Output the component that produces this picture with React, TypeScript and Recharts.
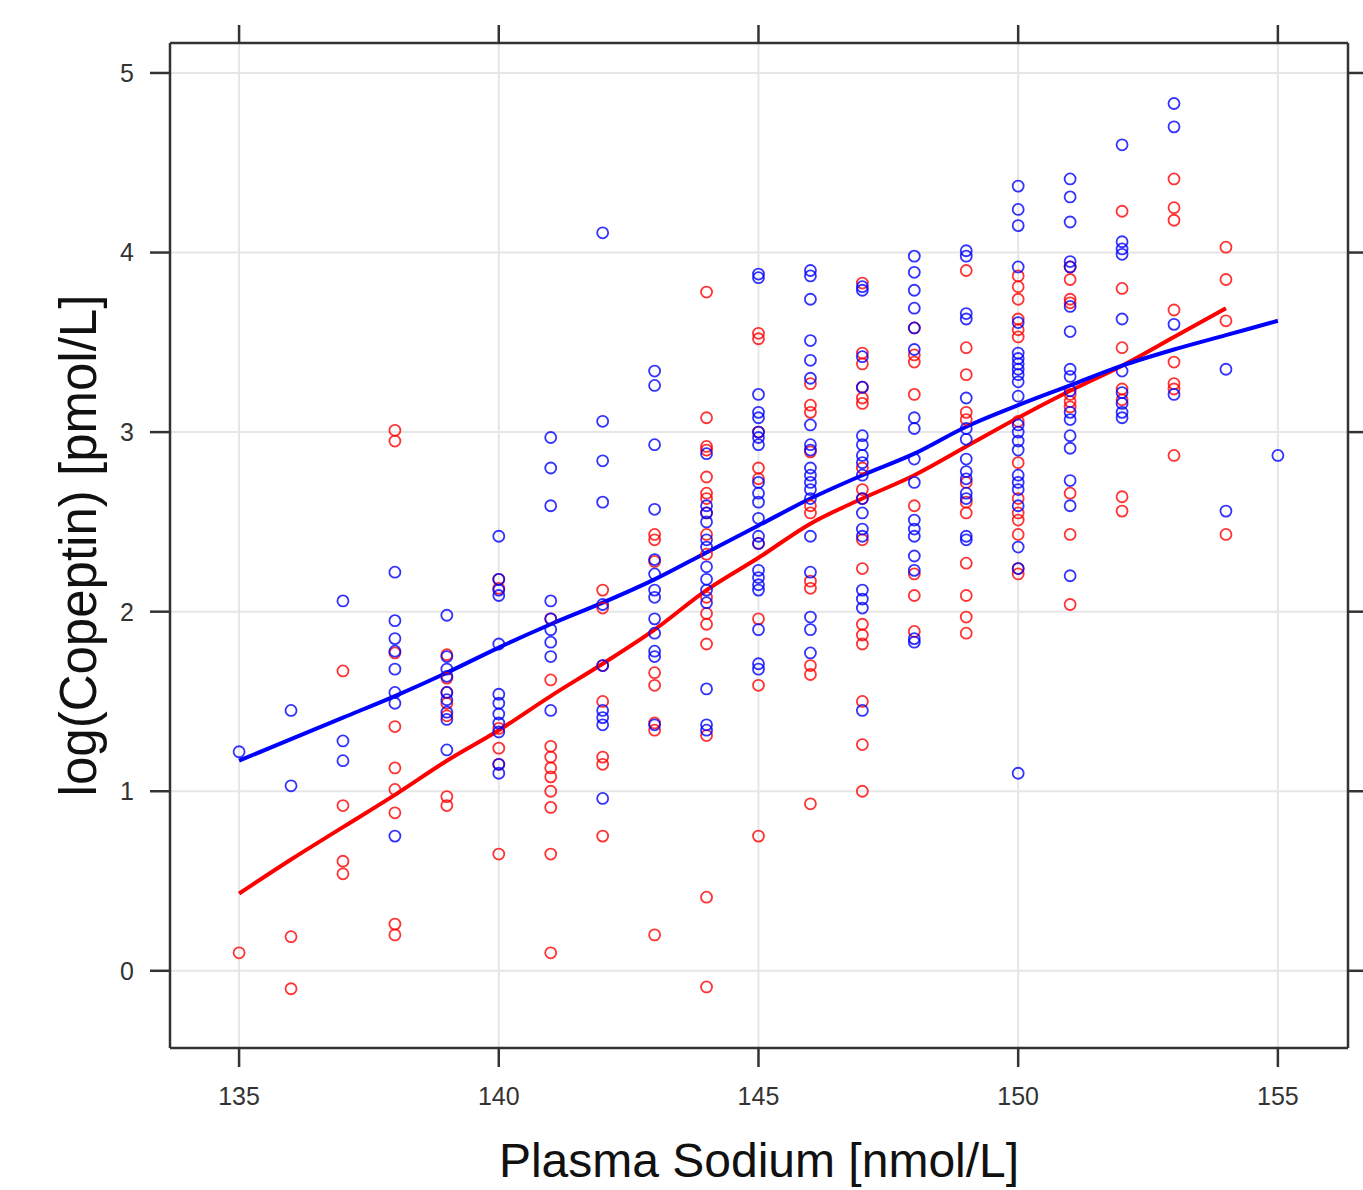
import { CartesianGrid, ComposedChart, Line, Scatter, XAxis, YAxis } from 'recharts'

// sodium level -> log(copeptin) values
const BLUE_POINTS: [number, number[]][] = [
  [135, [1.22]],
  [136, [1.45, 1.03]],
  [137, [2.06, 1.28, 1.17]],
  [138, [2.22, 1.95, 1.85, 1.78, 1.68, 1.55, 1.49, 0.75]],
  [139, [1.98, 1.75, 1.68, 1.64, 1.55, 1.51, 1.44, 1.4, 1.23]],
  [140, [2.42, 2.18, 2.12, 2.09, 1.82, 1.54, 1.49, 1.43, 1.38, 1.33, 1.15, 1.1]],
  [141, [2.97, 2.8, 2.59, 2.06, 1.96, 1.9, 1.83, 1.75, 1.45]],
  [142, [4.11, 3.06, 2.84, 2.61, 2.04, 1.7, 1.45, 1.41, 1.37, 0.96]],
  [143, [3.34, 3.26, 2.93, 2.57, 2.29, 2.21, 2.12, 2.08, 1.96, 1.88, 1.78, 1.75, 1.37]],
  [144, [2.88, 2.59, 2.55, 2.5, 2.4, 2.36, 2.25, 2.18, 2.12, 2.05, 1.57, 1.37, 1.34]],
  [145, [3.88, 3.86, 3.21, 3.11, 3.08, 3.0, 2.97, 2.93, 2.72, 2.66, 2.61, 2.52, 2.42, 2.38, 2.23, 2.19, 2.15, 2.12, 1.9, 1.71, 1.68]],
  [146, [3.9, 3.87, 3.74, 3.51, 3.4, 3.3, 3.04, 2.93, 2.9, 2.8, 2.76, 2.72, 2.68, 2.63, 2.42, 2.22, 1.97, 1.9, 1.77]],
  [147, [3.81, 3.79, 3.42, 3.25, 2.98, 2.93, 2.87, 2.83, 2.76, 2.63, 2.55, 2.46, 2.42, 2.12, 2.07, 2.02, 1.45]],
  [148, [3.98, 3.89, 3.79, 3.69, 3.58, 3.46, 3.08, 3.02, 2.85, 2.72, 2.51, 2.46, 2.42, 2.31, 2.23, 1.85, 1.83]],
  [149, [4.01, 3.98, 3.66, 3.63, 3.19, 3.02, 2.96, 2.85, 2.78, 2.74, 2.66, 2.63, 2.42, 2.4]],
  [150, [4.37, 4.24, 4.15, 3.92, 3.61, 3.44, 3.41, 3.38, 3.35, 3.32, 3.28, 3.2, 3.04, 3.0, 2.95, 2.9, 2.76, 2.72, 2.68, 2.59, 2.36, 2.24, 1.1]],
  [151, [4.41, 4.31, 4.17, 3.95, 3.92, 3.7, 3.56, 3.35, 3.31, 3.23, 3.11, 3.07, 2.98, 2.91, 2.73, 2.59, 2.2]],
  [152, [4.6, 4.06, 4.02, 3.99, 3.63, 3.34, 3.22, 3.16, 3.11, 3.08]],
  [153, [4.83, 4.7, 3.6, 3.21]],
  [154, [3.35, 2.56]],
  [155, [2.87]],
]

const RED_POINTS: [number, number[]][] = [
  [135, [0.1]],
  [136, [0.19, -0.1]],
  [137, [1.67, 0.92, 0.61, 0.54]],
  [138, [3.01, 2.95, 1.77, 1.36, 1.13, 1.01, 0.88, 0.26, 0.2]],
  [139, [1.76, 1.63, 1.55, 1.49, 1.42, 0.97, 0.92]],
  [140, [2.18, 2.13, 1.35, 1.24, 1.15, 0.65]],
  [141, [1.96, 1.62, 1.25, 1.19, 1.13, 1.08, 1.0, 0.91, 0.65, 0.1]],
  [142, [2.12, 2.02, 1.7, 1.5, 1.19, 1.15, 0.75]],
  [143, [2.43, 2.4, 2.28, 1.66, 1.59, 1.38, 1.34, 0.2]],
  [144, [3.78, 3.08, 2.92, 2.9, 2.75, 2.66, 2.63, 2.55, 2.43, 2.32, 2.08, 1.99, 1.93, 1.82, 1.31, 0.41, -0.09]],
  [145, [3.55, 3.52, 3.0, 2.8, 2.74, 2.38, 1.96, 1.59, 0.75]],
  [146, [3.27, 3.15, 3.11, 2.89, 2.59, 2.55, 2.17, 2.13, 1.7, 1.65, 0.93]],
  [147, [3.83, 3.44, 3.38, 3.25, 3.19, 3.16, 2.8, 2.68, 2.63, 2.4, 2.24, 1.93, 1.87, 1.82, 1.5, 1.26, 1.0]],
  [148, [3.58, 3.43, 3.39, 3.21, 2.59, 2.21, 2.09, 1.89]],
  [149, [3.9, 3.47, 3.32, 3.11, 3.07, 2.72, 2.61, 2.55, 2.27, 2.09, 1.97, 1.88]],
  [150, [3.87, 3.81, 3.74, 3.63, 3.57, 3.53, 3.06, 2.83, 2.63, 2.55, 2.51, 2.43, 2.24, 2.21]],
  [151, [3.92, 3.85, 3.74, 3.72, 3.21, 3.17, 3.14, 2.66, 2.43, 2.04]],
  [152, [4.23, 3.8, 3.47, 3.24, 3.18, 2.64, 2.56]],
  [153, [4.41, 4.25, 4.18, 3.68, 3.39, 3.27, 3.24, 2.87]],
  [154, [4.03, 3.85, 3.62, 2.43]],
]

// smoothed fit curves
const FIT_X = [135, 136, 137, 138, 139, 140, 141, 142, 143, 144, 145, 146, 147, 148, 149, 150, 151, 152, 153, 154, 155]
const BLUE_FIT = [1.17, 1.29, 1.41, 1.53, 1.66, 1.8, 1.93, 2.05, 2.18, 2.33, 2.48, 2.63, 2.76, 2.88, 3.03, 3.15, 3.26, 3.37, 3.46, 3.54, 3.62]
const RED_FIT = [0.43, 0.62, 0.8, 0.98, 1.17, 1.34, 1.53, 1.71, 1.9, 2.12, 2.3, 2.49, 2.63, 2.76, 2.92, 3.08, 3.23, 3.37, 3.53, 3.69]

const X_TICKS = [135, 140, 145, 150, 155]
const Y_TICKS = [0, 1, 2, 3, 4, 5]
const X_DOMAIN: [number, number] = [133.67, 156.35]
const Y_DOMAIN: [number, number] = [-0.43, 5.167]

const BLUE = '#0000ff'
const RED = '#ff0000'
const FONT = '"Liberation Sans", Arial, sans-serif'
const AXIS_COLOR = '#333333'

const flatten = (rows: [number, number[]][]) =>
  rows.flatMap(([x, ys]) => ys.map((y) => ({ x, y })))

const blueData = flatten(BLUE_POINTS)
const redData = flatten(RED_POINTS)
const blueFit = FIT_X.map((x, i) => ({ x, y: BLUE_FIT[i] }))
const redFit = FIT_X.slice(0, RED_FIT.length).map((x, i) => ({ x, y: RED_FIT[i] }))

const ring = (color: string) => (props: any) => (
  <circle cx={props.cx} cy={props.cy} r={5.5} fill="none" stroke={color} strokeOpacity={0.8} strokeWidth={1.8} />
)

const tickStyle = { fontSize: 25, fill: '#333', fontFamily: FONT }
const noLabel = () => <g />
const line = { stroke: AXIS_COLOR, strokeWidth: 2.5 }

export default function App() {
  return (
    <div style={{ position: 'absolute', left: 0, top: 0, background: '#fff' }}>
      <ComposedChart width={1363} height={1190} margin={{ top: 42, right: 14, bottom: 0, left: 0 }}>
        <CartesianGrid stroke="#e6e6e6" strokeWidth={2} />
        <XAxis
          type="number"
          dataKey="x"
          domain={X_DOMAIN}
          allowDataOverflow
          ticks={X_TICKS}
          height={142}
          tickSize={19}
          tickMargin={20}
          tick={tickStyle}
          axisLine={line}
          tickLine={line}
          label={{ value: 'Plasma Sodium [nmol/L]', position: 'insideBottom', offset: 13, style: { fontSize: 48, fill: '#111', fontFamily: FONT } }}
        />
        <XAxis
          xAxisId="top"
          orientation="top"
          type="number"
          dataKey="x"
          domain={X_DOMAIN}
          allowDataOverflow
          ticks={X_TICKS}
          height={1}
          tickSize={18}
          tick={noLabel}
          axisLine={line}
          tickLine={line}
        />
        <YAxis
          type="number"
          dataKey="y"
          domain={Y_DOMAIN}
          allowDataOverflow
          ticks={Y_TICKS}
          width={170}
          tickSize={20}
          tickMargin={16}
          tick={tickStyle}
          axisLine={line}
          tickLine={line}
          label={{ value: 'log(Copeptin) [pmol/L]', angle: -90, position: 'insideLeft', offset: 78, style: { textAnchor: 'middle', fontSize: 51, fill: '#111', fontFamily: FONT } }}
        />
        <YAxis
          yAxisId="right"
          orientation="right"
          type="number"
          dataKey="y"
          domain={Y_DOMAIN}
          allowDataOverflow
          ticks={Y_TICKS}
          width={1}
          tickSize={15}
          tick={noLabel}
          axisLine={line}
          tickLine={line}
        />
        <Scatter data={redData} dataKey="y" shape={ring(RED)} isAnimationActive={false} />
        <Scatter data={blueData} dataKey="y" xAxisId="top" yAxisId="right" shape={ring(BLUE)} isAnimationActive={false} />
        <Line data={redFit} dataKey="y" type="monotone" stroke={RED} strokeWidth={4} dot={false} isAnimationActive={false} />
        <Line data={blueFit} dataKey="y" xAxisId="top" yAxisId="right" type="monotone" stroke={BLUE} strokeWidth={4} dot={false} isAnimationActive={false} />
      </ComposedChart>
    </div>
  )
}
